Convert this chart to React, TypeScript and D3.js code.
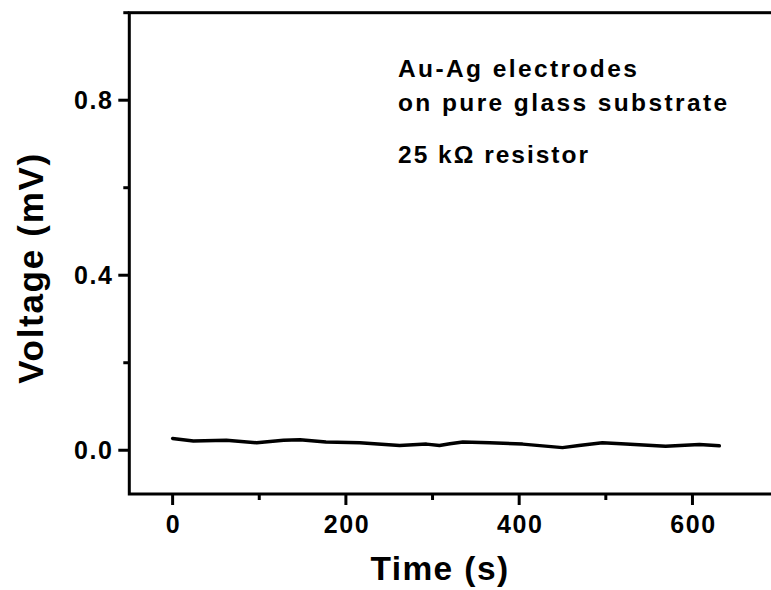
import React from "react";
import * as d3 from "d3";

const timeS = [0, 24, 62, 97, 128, 147, 177, 216, 262, 293, 308, 320, 335, 366, 404, 450, 469, 496, 523, 569, 608, 631];
const voltageMV = [0.027, 0.021, 0.023, 0.017, 0.023, 0.024, 0.019, 0.017, 0.011, 0.014, 0.011, 0.015, 0.019, 0.017, 0.014, 0.006, 0.011, 0.017, 0.014, 0.009, 0.013, 0.010];

const xMajorTicks = [0, 200, 400, 600];
const xMinorTicks = [100, 300, 500, 700];
const yMajorTicks = [0, 0.4, 0.8];
const yMinorTicks = [0.2, 0.6, 1.0];

const annotationLines = ["Au-Ag electrodes", "on pure glass substrate"];
const resistorLabel = "25 k\u03A9 resistor";
const xTitle = "Time (s)";
const yTitle = "Voltage (mV)";

const W = 771;
const H = 590;
const FONT = "'Liberation Sans', Arial, Helvetica, sans-serif";

export default function App() {
  const x = d3.scaleLinear().domain([-50, 700]).range([129.3, 779.1]);
  const y = d3.scaleLinear().domain([-0.1, 1.0]).range([494, 12.7]);
  const line = d3
    .line<number>()
    .x((_, i) => x(timeS[i]))
    .y((d) => y(d));
  const fmtY = d3.format(".1f");
  const x0 = x(-50);
  const y0 = y(-0.1);
  const yTop = y(1.0);

  return (
    <svg
      width={W}
      height={H}
      style={{ position: "absolute", left: 0, top: 0, background: "#fff" }}
      fontFamily={FONT}
      fontWeight="bold"
    >
      <rect x={0} y={0} width={W} height={H} fill="#fff" />
      {/* frame */}
      <rect
        x={x0}
        y={yTop}
        width={x(700) - x0}
        height={y0 - yTop}
        fill="none"
        stroke="#000"
        strokeWidth={3}
      />
      {/* x ticks */}
      {xMajorTicks.map((t) => (
        <g key={"xm" + t}>
          <line x1={x(t)} x2={x(t)} y1={y0} y2={y0 + 11} stroke="#000" strokeWidth={3} />
          <text x={x(t) + 1} y={533} textAnchor="middle" fontSize={25} letterSpacing={1.6}>
            {t}
          </text>
        </g>
      ))}
      {xMinorTicks.map((t) => (
        <line key={"xn" + t} x1={x(t)} x2={x(t)} y1={y0} y2={y0 + 6} stroke="#000" strokeWidth={3} />
      ))}
      {/* y ticks */}
      {yMajorTicks.map((t) => (
        <g key={"ym" + t}>
          <line x1={x0} x2={x0 - 11} y1={y(t)} y2={y(t)} stroke="#000" strokeWidth={3} />
          <text x={113.5} y={y(t) + 9} textAnchor="end" fontSize={25} letterSpacing={1.6}>
            {fmtY(t)}
          </text>
        </g>
      ))}
      {yMinorTicks.map((t) => (
        <line key={"yn" + t} x1={x0} x2={x0 - 6} y1={y(t)} y2={y(t)} stroke="#000" strokeWidth={3} />
      ))}
      {/* data */}
      <path
        d={line(voltageMV) || ""}
        fill="none"
        stroke="#000"
        strokeWidth={3.5}
        strokeLinejoin="round"
        strokeLinecap="round"
      />
      {/* annotation */}
      {annotationLines.map((s, i) => (
        <text key={s} x={398} y={77 + i * 34} fontSize={24.5} letterSpacing={2.4}>
          {s}
        </text>
      ))}
      <text x={398} y={163} fontSize={24.5} letterSpacing={2.0}>
        {resistorLabel}
      </text>
      {/* axis titles */}
      <text x={440} y={580} textAnchor="middle" fontSize={33.5} letterSpacing={1.4}>
        {xTitle}
      </text>
      <text
        transform={`translate(43,268) rotate(-90)`}
        textAnchor="middle"
        fontSize={35}
        letterSpacing={1.7}
      >
        {yTitle}
      </text>
    </svg>
  );
}
